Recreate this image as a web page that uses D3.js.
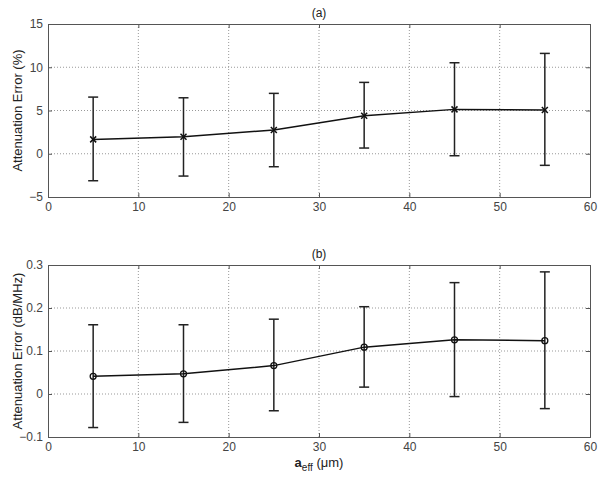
<!DOCTYPE html>
<html>
<head>
<meta charset="utf-8">
<script src="https://cdn.jsdelivr.net/npm/d3@7"></script>
<style>
  body { margin: 0; background: #fff; }
  text { font-family: "Liberation Sans", Arial, sans-serif; }
</style>
</head>
<body>
<svg width="600" height="480"></svg>
<script>
// data
var radius = [5, 15, 25, 35, 45, 55];

var errPct = [1.66, 1.97, 2.74, 4.39, 5.13, 5.05];
var errPctLow = [-3.12, -2.58, -1.50, 0.66, -0.23, -1.34];
var errPctHigh = [6.55, 6.47, 6.98, 8.25, 10.52, 11.6];

var errDb = [0.041, 0.047, 0.066, 0.109, 0.126, 0.124];
var errDbLow = [-0.078, -0.066, -0.039, 0.016, -0.006, -0.034];
var errDbHigh = [0.161, 0.161, 0.174, 0.203, 0.259, 0.284];

var xTicks = [0, 10, 20, 30, 40, 50, 60];
var yTicksA = [-5, 0, 5, 10, 15];
var yTicksB = [-0.1, 0, 0.1, 0.2, 0.3];

var svg = d3.select('svg');
var left = 48, right = 590;

var x = d3.scaleLinear().domain([0, 60]).range([left, right]);

function panel(opts) {
    var g = svg.append('g');
    var y = d3.scaleLinear().domain(opts.domain).range([opts.bottom, opts.top]);

    // dotted grid
    g.selectAll('.gx').data(xTicks.slice(1, -1)).enter().append('line')
        .attr('x1', function(d) { return x(d); })
        .attr('x2', function(d) { return x(d); })
        .attr('y1', opts.top).attr('y2', opts.bottom)
        .attr('stroke', '#999').attr('stroke-width', 1)
        .attr('stroke-dasharray', '1,2');
    g.selectAll('.gy').data(opts.ticks.slice(1, -1)).enter().append('line')
        .attr('x1', left).attr('x2', right)
        .attr('y1', function(d) { return y(d); })
        .attr('y2', function(d) { return y(d); })
        .attr('stroke', '#999').attr('stroke-width', 1)
        .attr('stroke-dasharray', '1,2');

    // axes
    var fmt = opts.fmt;
    var ax = [
        g.append('g').attr('transform', 'translate(0,' + opts.bottom + ')')
            .call(d3.axisBottom(x).tickValues(xTicks).tickSize(-4).tickPadding(5)),
        g.append('g').attr('transform', 'translate(0,' + opts.top + ')')
            .call(d3.axisTop(x).tickValues(xTicks).tickSize(-4).tickFormat('')),
        g.append('g').attr('transform', 'translate(' + left + ',0)')
            .call(d3.axisLeft(y).tickValues(opts.ticks).tickSize(-4).tickPadding(5).tickFormat(fmt)),
        g.append('g').attr('transform', 'translate(' + right + ',0)')
            .call(d3.axisRight(y).tickValues(opts.ticks).tickSize(-4).tickFormat(''))
    ];
    ax.forEach(function(a) {
        a.select('.domain').attr('stroke', '#555');
        a.selectAll('.tick line').attr('stroke', '#555');
        a.selectAll('text').attr('fill', '#444').style('font-size', '12px');
    });

    // title
    g.append('text').attr('x', (left + right) / 2).attr('y', opts.top - 7)
        .attr('text-anchor', 'middle').style('font-size', '12px')
        .attr('fill', '#222').text(opts.title);

    // y label
    g.append('text')
        .attr('transform', 'translate(22,' + ((opts.top + opts.bottom) / 2) + ') rotate(-90)')
        .attr('text-anchor', 'middle').style('font-size', '13px').attr('fill', '#222')
        .text(opts.label);

    // error bars
    var cap = 5;
    var bars = g.selectAll('.eb').data(radius).enter().append('g')
        .attr('stroke', '#222').attr('stroke-width', 1.5);
    bars.append('line')
        .attr('x1', function(d) { return x(d); }).attr('x2', function(d) { return x(d); })
        .attr('y1', function(d, i) { return y(opts.low[i]); })
        .attr('y2', function(d, i) { return y(opts.high[i]); });
    bars.append('line')
        .attr('x1', function(d) { return x(d) - cap; }).attr('x2', function(d) { return x(d) + cap; })
        .attr('y1', function(d, i) { return y(opts.low[i]); })
        .attr('y2', function(d, i) { return y(opts.low[i]); });
    bars.append('line')
        .attr('x1', function(d) { return x(d) - cap; }).attr('x2', function(d) { return x(d) + cap; })
        .attr('y1', function(d, i) { return y(opts.high[i]); })
        .attr('y2', function(d, i) { return y(opts.high[i]); });

    // mean line
    var line = d3.line()
        .x(function(d, i) { return x(radius[i]); })
        .y(function(d) { return y(d); });
    g.append('path').datum(opts.values).attr('d', line)
        .attr('fill', 'none').attr('stroke', '#111').attr('stroke-width', 1.5);

    // markers
    if (opts.marker === 'x') {
        var s = 3;
        opts.values.forEach(function(v, i) {
            var cx = x(radius[i]), cy = y(v);
            g.append('path')
                .attr('d', 'M' + (cx - s) + ',' + (cy - s) + 'L' + (cx + s) + ',' + (cy + s) +
                    'M' + (cx - s) + ',' + (cy + s) + 'L' + (cx + s) + ',' + (cy - s))
                .attr('stroke', '#111').attr('stroke-width', 1.5);
        });
    } else {
        g.selectAll('.mk').data(opts.values).enter().append('circle')
            .attr('cx', function(d, i) { return x(radius[i]); })
            .attr('cy', function(d) { return y(d); })
            .attr('r', 3).attr('fill', 'none')
            .attr('stroke', '#111').attr('stroke-width', 1.3);
    }
}

panel({
    top: 24, bottom: 197, domain: [-5, 15], ticks: yTicksA,
    fmt: d3.format('d'), title: '(a)', label: 'Attenuation Error (%)',
    values: errPct, low: errPctLow, high: errPctHigh, marker: 'x'
});

panel({
    top: 265, bottom: 437, domain: [-0.1, 0.3], ticks: yTicksB,
    fmt: function(d) { return d === 0 ? '0' : d3.format('.1f')(d); },
    title: '(b)', label: 'Attenuation Error (dB/MHz)',
    values: errDb, low: errDbLow, high: errDbHigh, marker: 'o'
});

// x label with subscript
var xl = svg.append('text').attr('x', (left + right) / 2).attr('y', 467)
    .attr('text-anchor', 'middle').style('font-size', '13px').attr('fill', '#222');
xl.append('tspan').style('font-weight', 'bold').text('a');
xl.append('tspan').attr('dy', 4).style('font-size', '10px').text('eff');
xl.append('tspan').attr('dy', -4).text(' (\u03bcm)');
</script>
</body>
</html>
